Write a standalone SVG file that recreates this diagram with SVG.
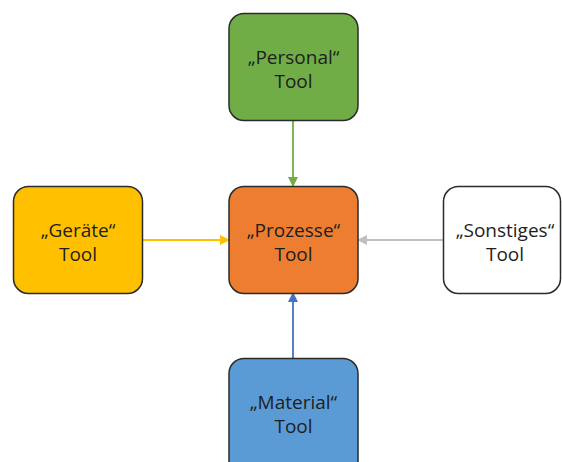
<svg xmlns="http://www.w3.org/2000/svg" width="562" height="462" viewBox="0 0 562 462">
  <defs>
    <style>
      .box { stroke: #2b2b2b; stroke-width: 1.5; }
      .lbl { font-family: "Open Sans", "Liberation Sans", sans-serif; font-size: 19px; fill: #1e1e1e; text-anchor: middle; }
      .conn { stroke-width: 1.8; fill: none; }
    </style>
    <marker id="ahGreen" viewBox="0 0 10 10" refX="9" refY="5" markerWidth="10" markerHeight="10" markerUnits="userSpaceOnUse" orient="auto">
      <path d="M0,0 L10,5 L0,10 Z" fill="#70AD47"/>
    </marker>
    <marker id="ahYellow" viewBox="0 0 10 10" refX="9" refY="5" markerWidth="10" markerHeight="10" markerUnits="userSpaceOnUse" orient="auto">
      <path d="M0,0 L10,5 L0,10 Z" fill="#FFC000"/>
    </marker>
    <marker id="ahGray" viewBox="0 0 10 10" refX="9" refY="5" markerWidth="10" markerHeight="10" markerUnits="userSpaceOnUse" orient="auto">
      <path d="M0,0 L10,5 L0,10 Z" fill="#BFBFBF"/>
    </marker>
    <marker id="ahBlue" viewBox="0 0 10 10" refX="9" refY="5" markerWidth="10" markerHeight="10" markerUnits="userSpaceOnUse" orient="auto">
      <path d="M0,0 L10,5 L0,10 Z" fill="#4472C4"/>
    </marker>
  </defs>

  <g id="connectors">
    <line class="conn" x1="293" y1="120" x2="293" y2="186" stroke="#70AD47" marker-end="url(#ahGreen)"/>
    <line class="conn" x1="143" y1="240" x2="229" y2="240" stroke="#FFC000" marker-end="url(#ahYellow)"/>
    <line class="conn" x1="443" y1="240" x2="358" y2="240" stroke="#BFBFBF" marker-end="url(#ahGray)"/>
    <line class="conn" x1="293" y1="358" x2="293" y2="293" stroke="#4472C4" marker-end="url(#ahBlue)"/>
  </g>

  <g id="personal">
    <rect class="box" x="229" y="13.5" width="129" height="107" rx="15" fill="#70AD47"/>
    <text class="lbl" x="293.5" y="64">„Personal“</text>
    <text class="lbl" x="293.5" y="88">Tool</text>
  </g>

  <g id="geraete">
    <rect class="box" x="13.5" y="186.5" width="129" height="107" rx="15" fill="#FFC000"/>
    <text class="lbl" x="78" y="237">„Geräte“</text>
    <text class="lbl" x="78" y="261">Tool</text>
  </g>

  <g id="prozesse">
    <rect class="box" x="229" y="186.5" width="129" height="107" rx="15" fill="#ED7D31"/>
    <text class="lbl" x="293.5" y="237">„Prozesse“</text>
    <text class="lbl" x="293.5" y="261">Tool</text>
  </g>

  <g id="sonstiges">
    <rect class="box" x="443.5" y="186.5" width="117" height="107" rx="15" fill="#FFFFFF"/>
    <text class="lbl" x="505" y="237">„Sonstiges“</text>
    <text class="lbl" x="505" y="261">Tool</text>
  </g>

  <g id="material">
    <rect class="box" x="229" y="358.5" width="129" height="120" rx="15" fill="#5B9BD5"/>
    <text class="lbl" x="293.5" y="409">„Material“</text>
    <text class="lbl" x="293.5" y="433">Tool</text>
  </g>
</svg>
